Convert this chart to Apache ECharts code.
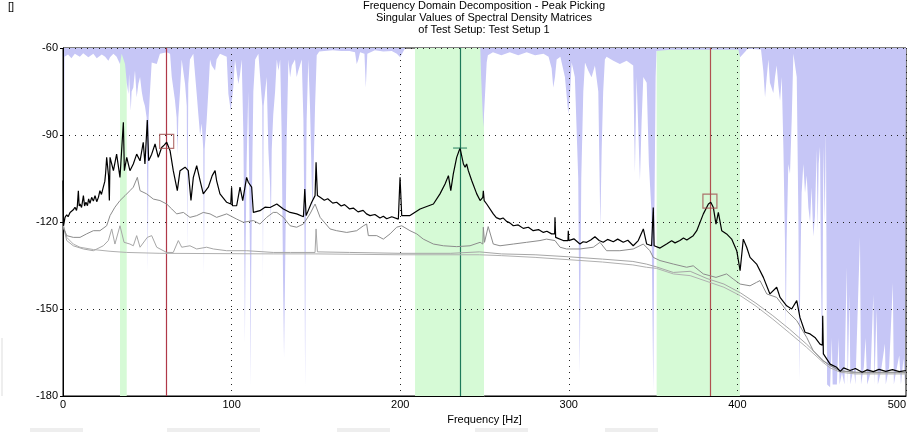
<!DOCTYPE html>
<html>
<head>
<meta charset="utf-8">
<script src="https://cdn.jsdelivr.net/npm/echarts@6/dist/echarts.min.js"></script>
<style>html,body{margin:0;padding:0;background:#fff;}#c{width:915px;height:432px;}</style>
</head>
<body>
<div id="c"></div>
<script>
// ---- data ----
const titleLines = ['Frequency Domain Decomposition - Peak Picking','Singular Values of Spectral Density Matrices','of Test Setup: Test Setup 1'];
const xName = 'Frequency [Hz]';
const xMin = 0, xMax = 500, xStep = 100;
const yMin = -180, yMax = -60, yStep = 30;

// first singular value [Hz, dB]
const sv1 = [[0,-105.7],[0.3,-121.3],[1.2,-118.4],[2.2,-117.5],[3.0,-118.2],[4.2,-116.7],[5.0,-117.3],[6.1,-115.8],[7.1,-114.9],[8.0,-116],[8.5,-114.5],[9.1,-109.2],[9.6,-114.5],[10.1,-113.8],[11,-115],[12.1,-110.9],[12.8,-114.5],[13.6,-113.2],[14.5,-114.4],[15.2,-112],[16.0,-113.6],[17,-111.5],[18.0,-112.8],[19,-110.9],[20.0,-113],[21,-111.5],[21.9,-109.2],[22.8,-110.5],[23.9,-108.0],[24.8,-106],[25.3,-103],[25.9,-97.7],[27.0,-104],[27.5,-112.6],[27.9,-97.7],[29.9,-102.3],[31.8,-96.6],[33.8,-104.6],[35.8,-85.6],[36.4,-102.3],[37.8,-97.7],[39.7,-102.3],[41.7,-100.0],[43.7,-96.6],[45.7,-98.9],[47.6,-92.5],[48.6,-100.0],[50.0,-84.8],[50.8,-98.9],[52.6,-96.6],[54.6,-93.1],[56.5,-97.7],[58.5,-94.3],[60.0,-93.5],[61.5,-92.5],[63.5,-95.4],[65.4,-102.3],[67.8,-109.2],[69.4,-102.3],[72.4,-101.1],[74.3,-102.3],[75.9,-112.6],[77.3,-104.6],[79.3,-100.6],[81.3,-105.7],[83.2,-110.3],[86.2,-108.0],[88.5,-104],[90.2,-102.3],[91.1,-105.7],[93.1,-110.3],[97.1,-113.2],[99.5,-113.8],[100.0,-108],[100.5,-114.4],[103.0,-114.4],[105.0,-108.0],[106.6,-112.6],[108.9,-104.6],[109.9,-106.3],[111.9,-108.0],[112.9,-116.7],[116.8,-116.1],[119.8,-114.9],[122.8,-115.0],[126.8,-113.8],[130.7,-115.5],[134.7,-116.7],[138.6,-117.2],[142.6,-118.2],[143.4,-108.6],[144.2,-117.8],[147.5,-113.2],[149.5,-110.9],[150.1,-99.4],[150.9,-110.9],[152.5,-111.5],[155,-112.5],[157,-112],[160,-113.5],[162.3,-113.2],[165,-114.5],[167,-114],[170,-115.5],[172.2,-115.2],[175,-116.5],[178,-116],[180,-117.2],[182.1,-117.8],[185,-117.4],[188,-118.6],[190,-118],[192.0,-118.9],[195,-118.2],[198.9,-119.0],[199.9,-104.6],[200.9,-117.8],[205.8,-117.8],[211.8,-115.5],[219.7,-113.8],[223.6,-110.3],[226.6,-106.9],[228.6,-104.0],[230.0,-109.2],[231.5,-103.4],[233.5,-97.7],[235.5,-94.5],[237.5,-100.0],[238.5,-101.1],[239.4,-100.0],[240.4,-102.3],[242.4,-105.7],[245.4,-110.3],[247.4,-112.6],[249.0,-111.5],[249.3,-109.2],[249.8,-112.6],[251.3,-113.8],[255.2,-117.2],[257,-118.5],[259.2,-119.0],[261,-118.6],[263.1,-119.8],[265,-120.3],[267.1,-121.3],[270,-121],[273.0,-122.2],[276,-121.8],[278.9,-123.0],[282,-122.6],[284.9,-123.6],[287,-123.2],[289.8,-124.1],[291.6,-124.1],[291.8,-118.4],[292.2,-125.3],[296.7,-126.4],[299.5,-126.4],[299.7,-123.0],[300.0,-126.4],[303,-125.8],[306.6,-127.6],[308.5,-126.8],[310.6,-127.0],[313,-126.2],[315.5,-125.1],[318,-126.4],[320.4,-127.0],[323,-126],[326.4,-126.8],[329,-125.9],[332.3,-127.0],[335,-126.3],[338.2,-128.2],[341.2,-126.4],[344.2,-122.4],[346.2,-127.6],[349.1,-128.2],[350.1,-115.0],[350.6,-128.2],[354.1,-129.0],[358.0,-127.6],[361,-126.5],[363,-127.2],[365.9,-126.4],[368,-125.5],[370,-126.2],[373.8,-124.7],[375.9,-123.0],[379.8,-117.2],[382.8,-113.8],[384.2,-113.2],[385.7,-114.9],[387.3,-120.7],[388.7,-116.7],[390.7,-123.0],[393.6,-124.1],[396.6,-125.9],[399.6,-129.9],[401.6,-136.8],[403.5,-125.9],[405.5,-128.7],[407.5,-132.2],[411.4,-134.5],[415.4,-139.1],[419.3,-144.8],[423.3,-142.5],[425.3,-146.0],[429.2,-148.9],[432.2,-150.0],[435.2,-147.1],[437.1,-152.9],[440.1,-158.0],[443.1,-158.6],[446.0,-159.8],[449.0,-162.1],[450.4,-162.5],[450.6,-152.3],[451.0,-165.5],[455.0,-169.0],[458.9,-170.1],[461,-171.5],[463,-170.3],[466.8,-171.2],[470,-170.5],[474,-171.8],[477,-171],[480.6,-171.6],[484,-170.8],[488,-171.5],[492,-170.9],[496,-171.6],[500,-171.2]];

// second singular value
const sv2 = [[0.2,-122.0],[2.2,-124.7],[6.1,-125.3],[10.1,-125.3],[14,-124.1],[18.0,-123.0],[21.9,-123.0],[25.9,-121.3],[27.9,-117.8],[30.8,-114.9],[33.8,-112.6],[36.8,-110.9],[39.7,-109.2],[41.7,-108.0],[44.1,-104.6],[45.7,-109.2],[49.6,-110.3],[53.6,-112.1],[57.5,-112.6],[61.5,-113.8],[64.5,-115.5],[67.4,-117.2],[71.4,-116.7],[75.3,-118.4],[79.3,-117.8],[83.2,-116.7],[87.2,-117.2],[91.1,-118.4],[97.1,-117.2],[103.0,-119.0],[107.0,-120.1],[112.9,-119.5],[116.8,-120.7],[120.8,-118.4],[124.7,-116.7],[126.8,-116.7],[130.7,-118.4],[134.7,-121.3],[138.6,-121.8],[142.6,-120.7],[146.5,-117.2],[149.5,-113.8],[150.5,-114],[152.5,-118.4],[158.4,-122.4],[162.3,-123.0],[168.3,-123.6],[174.2,-123.0],[178.2,-121.3],[180.1,-120.7],[181.1,-124.7],[186.1,-124.7],[190.0,-125.9],[194.0,-124.1],[197.9,-121.8],[200.9,-121.3],[205.8,-123.0],[209.8,-124.1],[213.7,-125.9],[219.7,-127.6],[225.6,-128.2],[233.5,-128.5],[241.4,-128.2],[247.4,-127.0],[249.0,-127.6],[249.3,-121.8],[250,-127],[252.2,-121.6],[255.2,-127.6],[259.2,-128.2],[267.1,-127.6],[275.0,-127.0],[282.9,-126.4],[286.8,-125.9],[291.8,-126.4],[294.8,-128.7],[298.7,-129.3],[306.6,-129.3],[314.5,-128.7],[318.5,-127.0],[322.4,-129.9],[330.3,-129.9],[338.2,-129.3],[344.2,-127.6],[348.1,-129.9],[350.1,-132.2],[354.1,-133.3],[362.0,-134.5],[369.9,-135.6],[373.8,-135.1],[379.8,-137.9],[387.3,-139.1],[393.6,-137.9],[397.6,-139.7],[401.6,-141.4],[407.5,-142.0],[411.4,-140.8],[413.4,-140.2],[417.4,-144.8],[423.3,-146.0],[426.3,-148.3],[429.2,-150.6],[435.2,-154.0],[441.1,-159.8],[445.0,-164.4],[450.6,-167.8],[455.0,-169.5],[460.9,-171.3],[470.8,-171.8],[499.4,-171.8],[500,-171.8]];

// third singular value
const sv3 = [[0.2,-121.3],[2.2,-126.4],[6.1,-128.2],[12.1,-129.3],[18.0,-129.9],[23.9,-128.2],[26.9,-126.4],[28.9,-122.4],[30.8,-127.6],[33.8,-121.3],[36.2,-127.0],[39.7,-127.6],[41.7,-128.2],[43.7,-124.7],[45.7,-128.7],[50.0,-125.3],[52.6,-124.7],[55.6,-128.7],[61.5,-130.5],[65.4,-130.5],[68.4,-126.4],[70.4,-128.7],[75.3,-128.2],[79.3,-129.3],[85.2,-128.7],[89.2,-129.3],[97.1,-129.9],[108.9,-129.9],[124.7,-130.5],[135,-130.5],[149.5,-130.5],[150.1,-122.4],[150.9,-130.3],[170,-130.5],[200,-130.8],[230,-130.8],[247,-130.3],[260,-131.0],[280,-131.3],[300,-132.0],[320,-132.8],[338,-133.6],[346,-134.5],[352,-135.5],[362,-137.4],[372,-137.0],[382,-139.5],[392,-141.4],[402,-144.5],[411,-148.0],[421,-152.3],[431,-157.0],[441,-162.1],[451,-167.8],[455,-169.5],[461,-171.3],[470,-172.0],[500,-172.0]];

// fourth singular value
const sv4 = [[0.2,-121.0],[2.2,-125.3],[6.1,-127.6],[10.1,-128.7],[18.0,-129.5],[27.9,-130.1],[37.8,-130.5],[57.5,-130.8],[124.7,-131.0],[150,-131.0],[200,-131.3],[247,-131.3],[260,-131.6],[280,-132.2],[300,-133.0],[320,-133.8],[338,-134.8],[346,-135.6],[352,-136.0],[362,-137.9],[372,-138.5],[382,-140.5],[392,-142.5],[402,-145.5],[411,-149.0],[421,-153.5],[431,-158.3],[441,-163.2],[451,-168.5],[455,-170.3],[461,-171.8],[470,-172.4],[500,-172.4]];

// shaded (blue) indicator, filled from the top of the plot down to this value
const shade = [[0,-180],[0.6,-180],[0.9,-63],[3,-62.2],[5,-63.5],[7,-62],[10,-63],[12,-61.8],[15,-63.2],[18,-62],[20,-63.5],[23,-62.2],[25,-63],[26.9,-64.4],[27.9,-63.2],[29.9,-62],[31.8,-63],[33.8,-65.5],[34.8,-62],[36.8,-65.5],[37.8,-72],[38.8,-75.9],[39.2,-69],[40.2,-81.6],[40.7,-75],[41.7,-73.6],[42.7,-67.8],[43.7,-77],[44.7,-72.4],[45.7,-70],[46.7,-75],[47.6,-78],[48.6,-80],[49.6,-84],[50.3,-136.8],[50.8,-84],[51.6,-75],[52.6,-65],[53.6,-64.4],[55.6,-65.5],[56.5,-66],[57.5,-62],[61.5,-61.5],[63.5,-62],[64.5,-70],[66.4,-78],[67.4,-83.9],[67.9,-97],[68.4,-83.9],[69.4,-75],[70.4,-64],[72.4,-72.4],[73.4,-80],[73.8,-130],[74.3,-72.4],[75.3,-64],[77.3,-62],[79.3,-75.9],[80.3,-83],[81.3,-90],[82.3,-86],[83.2,-95],[83.6,-137.9],[84.0,-95],[85.2,-85],[86.2,-75],[87.2,-64],[88.2,-66],[90.2,-67.8],[91.1,-64],[93.1,-62],[97.1,-63],[98.1,-75.9],[99.5,-81.6],[101.0,-73.6],[102.0,-64],[104.0,-72.4],[105.0,-69],[106.0,-64],[107.0,-90],[107.6,-134.5],[107.9,-162],[108.2,-134.5],[108.9,-100],[109.9,-75],[110.5,-110],[111.0,-139],[111.3,-177],[111.6,-139],[112.3,-100],[112.9,-75],[114,-64],[115.9,-62],[117,-62],[118.2,-80],[118.6,-140],[119,-80],[120.8,-70],[121.8,-95],[122.8,-106.9],[123.3,-121],[123.8,-95],[124.7,-83],[125.8,-75],[126.8,-64],[127.8,-67.8],[128.8,-64],[129.7,-90],[130.5,-139],[131.1,-166.7],[131.7,-139],[132.7,-90],[133.7,-64],[134.7,-70.1],[135.7,-66],[137.6,-64],[138.6,-70],[139.6,-67.8],[141.6,-64],[142.6,-85],[143.2,-123],[143.6,-177],[144.0,-123],[144.5,-85],[145.5,-64],[146.5,-80],[147.5,-105.7],[148.0,-116],[148.5,-105.7],[149.5,-80],[150.5,-62.5],[152,-61.2],[155,-61],[160,-60.8],[165,-61],[170,-61],[173.2,-61.5],[174.2,-65.5],[175.2,-64],[176.2,-61.5],[178.8,-62],[179.6,-73.6],[180.5,-62],[185,-60.8],[190,-61.2],[195,-61],[198,-62],[200,-63.2],[202,-61],[203,-60],[247.5,-60],[248,-70],[249.3,-87.4],[250.3,-87.4],[251.3,-65],[252,-62.5],[255,-61.5],[260,-62.5],[265,-61.5],[270,-62.5],[275,-61.5],[280,-62.5],[285,-62],[288,-63],[289.8,-67],[290.8,-73.6],[291.8,-70],[292.8,-64],[295,-63],[297.7,-70],[299.7,-82.8],[300.7,-76],[301.7,-65],[303.6,-70],[305.6,-105],[306.5,-172.4],[307.4,-105],[308.6,-75],[309.6,-65],[311.5,-67.8],[313.5,-70.1],[315.5,-66],[317.5,-75],[318.7,-122],[319.5,-95],[320.4,-75],[321.4,-64],[322.4,-63],[326.4,-64.4],[330.3,-65.5],[334.3,-64.4],[338.2,-66],[339.2,-103],[340.2,-70],[341.2,-70],[342.2,-105.7],[343.2,-85],[344.2,-70],[346.2,-72],[347.5,-100],[349,-116],[350.1,-178.2],[350.8,-116],[351.5,-70],[352,-61],[360,-60.6],[380,-60.6],[400.6,-60.6],[401.6,-63.2],[403.5,-62],[405,-61],[406,-60.3],[414,-60.5],[415.4,-68],[416.4,-77],[417.4,-70],[418.4,-64],[419.3,-72],[421.3,-75.5],[422.3,-70],[423.3,-66],[424.3,-73],[425.3,-78.2],[426.3,-70],[427.3,-95],[428.2,-126.4],[428.7,-158],[429.2,-126.4],[430.2,-100],[431.2,-103.4],[432.2,-85],[433.2,-62],[434.2,-62.1],[435.2,-70],[436.2,-120],[436.7,-174.7],[437.3,-139],[438.1,-110],[439.1,-100],[440.1,-110],[441.1,-104],[442.1,-115],[443.1,-120],[444,-108],[445,-125],[446,-118],[447,-95],[447.6,-123],[448.2,-100],[449,-94],[449.6,-139],[450.3,-170],[451,-94],[451.8,-120],[452.5,-88],[453.2,-176],[455,-177],[456,-160],[456.5,-176],[459,-176],[460,-160],[460.6,-176],[462,-172],[463.5,-176],[464.8,-135.5],[465.4,-176],[466.5,-145],[467,-176],[469,-170],[470,-176],[472.7,-125.3],[473.3,-176],[475,-170],[476,-160],[477,-176],[479,-172],[480.6,-145],[481.3,-176],[482.5,-150],[483.3,-176],[485,-172],[487.5,-162],[488,-176],[490,-170],[492.2,-141],[492.8,-176],[494,-172],[496,-166],[497,-176],[498.5,-167],[499.3,-176],[500,-176]];

// selected frequency bands, peak lines and picked peaks
const bands = [[33.8,37.8],[208.8,249.7],[352.1,401.5]];
const peakLines = [61.5, 235.5, 383.7];
const peakLineColors = ['#b03848','#1e7a5a','#b05050'];
const pickedSquares = [[61.5,-92.2],[383.7,-112.8]];
const pickedTick = [[235.5,-94.5]];

// ---- chart ----
const FONT = 'Liberation Sans, Arial, sans-serif';
const chart = echarts.init(document.getElementById('c'), null, {renderer:'canvas'});
const dotted = {color:'#222', width:1, type:[1,5]};

const option = {
  animation:false,
  backgroundColor:'#fff',
  title:{
    text: titleLines.join('\n'),
    left: 484, top: 0, padding:0, textAlign:'center',
    textStyle:{fontFamily:FONT, fontSize:11, fontWeight:'normal', color:'#000', lineHeight:12}
  },
  graphic:[
    {type:'text', left:8, top:1, style:{text:'[]', font:'11px '+FONT, fill:'#000'}},
    {type:'rect', shape:{x:30,y:428,width:53,height:4}, style:{fill:'#eeeeee'}},
    {type:'rect', shape:{x:167,y:428,width:93,height:4}, style:{fill:'#eeeeee'}},
    {type:'rect', shape:{x:337,y:428,width:53,height:4}, style:{fill:'#eeeeee'}},
    {type:'rect', shape:{x:475,y:428,width:53,height:4}, style:{fill:'#eeeeee'}},
    {type:'rect', shape:{x:605,y:428,width:53,height:4}, style:{fill:'#eeeeee'}},
    {type:'line', shape:{x1:2,y1:338,x2:2,y2:396}, style:{stroke:'#dddddd', lineWidth:1}}
  ],
  grid:{left:63, right:9, top:48, bottom:36, show:true, borderColor:'#000', borderWidth:1, backgroundColor:'#fff'},
  xAxis:{
    type:'value', min:xMin, max:xMax, interval:xStep, z:3,
    name:xName, nameLocation:'middle', nameGap:13,
    nameTextStyle:{fontFamily:FONT, fontSize:11, color:'#000'},
    axisLine:{lineStyle:{color:'#000', width:1}},
    axisTick:{show:false},
    axisLabel:{fontFamily:FONT, fontSize:11, color:'#000', margin:3, alignMaxLabel:'right'},
    splitLine:{show:true, lineStyle:dotted}
  },
  yAxis:{
    type:'value', min:yMin, max:yMax, interval:yStep, z:3,
    axisLine:{show:true, lineStyle:{color:'#000', width:1}},
    axisTick:{show:true, length:3, lineStyle:{color:'#000'}},
    axisLabel:{fontFamily:FONT, fontSize:11, color:'#000', margin:5},
    splitLine:{show:true, lineStyle:dotted}
  },
  series:[
    {
      type:'line', z:0, data:[[0,-300]], showSymbol:false, lineStyle:{width:0}, silent:true,
      markArea:{silent:true, itemStyle:{color:'#d6fad6'},
        data: bands.map(b=>[{xAxis:b[0]},{xAxis:b[1]}])}
    },
    {
      type:'line', z:1, data:shade, showSymbol:false, lineStyle:{width:0},
      areaStyle:{origin:'end', color:'#c6c6f6', opacity:1}, silent:true
    },
    {
      type:'line', z:4, data:[[0,-300]], showSymbol:false, lineStyle:{width:0}, silent:true,
      markLine:{silent:true, symbol:['none','none'], label:{show:false},
        data: peakLines.map((f,i)=>({xAxis:f, lineStyle:{color:peakLineColors[i], width:1.2, type:'solid'}}))}
    },
    {type:'line', z:5, data:sv4, showSymbol:false, lineStyle:{color:'#b0b0b0', width:1}},
    {type:'line', z:5, data:sv3, showSymbol:false, lineStyle:{color:'#a6a6a6', width:1}},
    {type:'line', z:5, data:sv2, showSymbol:false, lineStyle:{color:'#8c8c8c', width:1}},
    {type:'line', z:6, data:sv1, showSymbol:false, lineStyle:{color:'#000', width:1.2}},
    {type:'scatter', z:7, data:pickedSquares, symbol:'rect', symbolSize:14,
      itemStyle:{color:'rgba(0,0,0,0)', borderColor:'#a05050', borderWidth:1.2}},
    {type:'scatter', z:7, data:pickedTick, symbol:'rect', symbolSize:[14,1.2],
      itemStyle:{color:'#1e7a5a'}}
  ]
};
chart.setOption(option);
</script>
</body>
</html>
